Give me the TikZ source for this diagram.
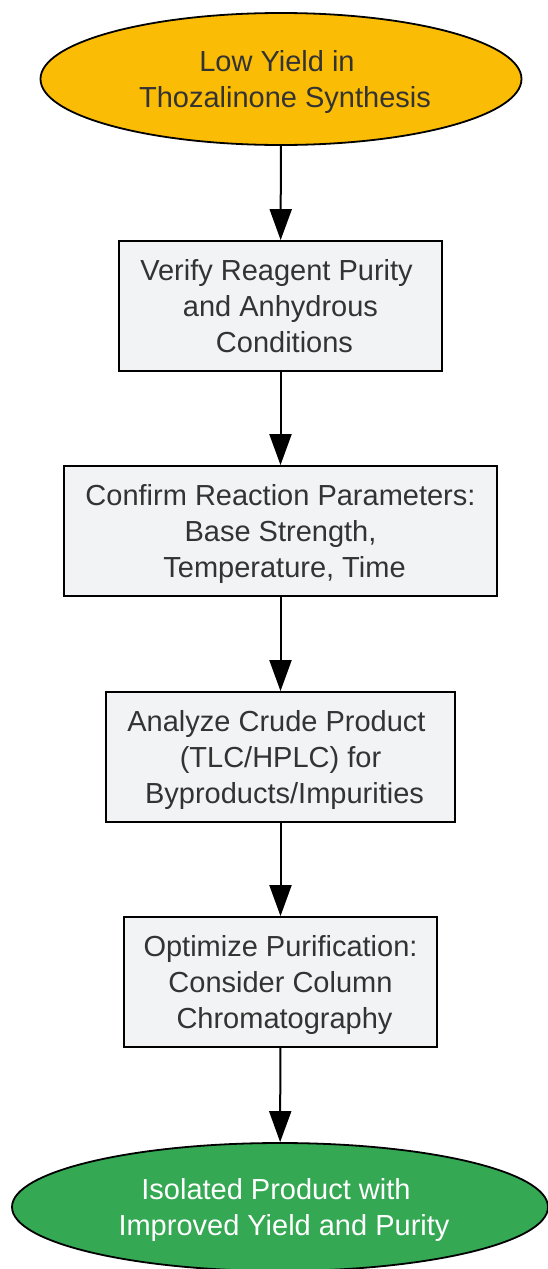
\documentclass[tikz,border=0pt]{standalone}
\usepackage{fontspec}
\setmainfont{Liberation Sans}
\usetikzlibrary{shapes.geometric,arrows.meta}
\definecolor{startc}{HTML}{FBBC05}
\definecolor{endc}{HTML}{34A853}
\definecolor{boxc}{HTML}{F1F3F4}
\definecolor{txt}{HTML}{333333}
\newcommand{\xsp}{\hspace*{8pt}}
\newcommand{\tst}{\rule{0pt}{28pt}}
\newcommand{\bst}{\rule[-8pt]{0pt}{8pt}}
\tikzset{
  base/.style={draw=black, line width=1.8pt, inner sep=0pt, align=center,
    font=\fontsize{29}{36}\selectfont, text=txt},
  oval/.style={base, ellipse},
  stepbox/.style={base, rectangle, fill=boxc, minimum height=130pt},
  arr/.style={line width=2pt, -{Triangle[length=31pt,width=22pt]}},
}
\begin{document}
\begin{tikzpicture}[x=1pt,y=-1pt]
\useasboundingbox (0,0) rectangle (548,1269);
\node[oval, fill=startc, minimum width=481pt, minimum height=132pt] (s) at (281,79) {\tst Low Yield in\xsp\\\xsp Thozalinone Synthesis\bst};
\node[stepbox, minimum width=323pt] (b1) at (280.5,306) {\tst Verify Reagent Purity\xsp\\and Anhydrous\\\xsp Conditions\bst};
\node[stepbox, minimum width=433pt] (b2) at (280.5,531) {\tst Confirm Reaction Parameters:\\Base Strength,\\\xsp Temperature, Time\bst};
\node[stepbox, minimum width=349pt] (b3) at (280.5,757) {\tst Analyze Crude Product\xsp\\(TLC/HPLC) for\\\xsp Byproducts/Impurities\bst};
\node[stepbox, minimum width=313pt] (b4) at (280.5,982) {\tst Optimize Purification:\\Consider Column\\\xsp Chromatography\bst};
\node[oval, fill=endc, text=white, minimum width=536pt, minimum height=128pt] (e) at (280,1207) {\tst Isolated Product with\xsp\\\xsp Improved Yield and Purity\bst};
\draw[arr] (s) -- (b1);
\draw[arr] (b1) -- (b2);
\draw[arr] (b2) -- (b3);
\draw[arr] (b3) -- (b4);
\draw[arr] (b4) -- (e);
\end{tikzpicture}
\end{document}
